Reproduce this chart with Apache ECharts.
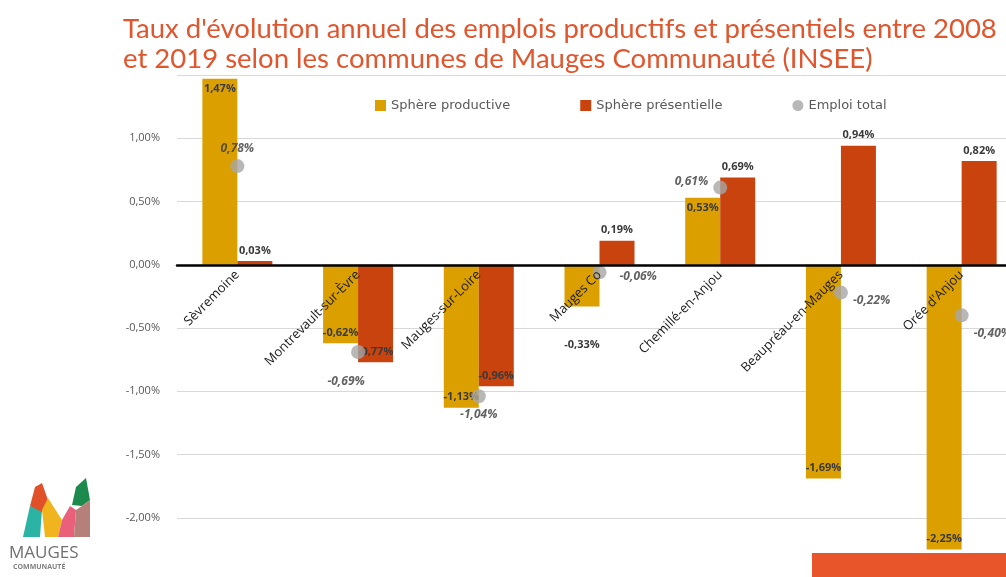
<!DOCTYPE html>
<html>
<head>
<meta charset="utf-8">
<script src="https://cdn.jsdelivr.net/npm/echarts@6/dist/echarts.min.js"></script>
<style>
  html, body { margin: 0; padding: 0; background: #fff; }
  #chart { width: 1006px; height: 577px; }
</style>
</head>
<body>
<div id="chart"></div>
<script>
// communes de Mauges Communauté
const communes = ['Sèvremoine', 'Montrevault-sur-Èvre', 'Mauges-sur-Loire', 'Mauges Co', 'Chemillé-en-Anjou', 'Beaupréau-en-Mauges', "Orée d'Anjou"]
// taux d'évolution annuel (%)
const productive = [1.47, -0.62, -1.13, -0.33, 0.53, -1.69, -2.25]
const presentielle = [0.03, -0.77, -0.96, 0.19, 0.69, 0.94, 0.82]
const emploiTotal = [0.78, -0.69, -1.04, -0.06, 0.61, -0.22, -0.40]
const yTicks = [-2, -1.5, -1, -0.5, 0, 0.5, 1]

const fmt = (v) => v.toFixed(2).replace('.', ',') + '%'

const chart = echarts.init(document.getElementById('chart'))

// géométrie de la grille : l'axe des catégories est remonté jusqu'à 0
const gridTop = 75
const gridBottom = -4
const yMin = -2.5
const yMax = 1.5
const plotH = 577 - gridTop - gridBottom
const zeroOffset = -plotH * (0 - yMin) / (yMax - yMin)

// placement des étiquettes de l'emploi total
const totalLabelPos = ['top', 'bottom', 'bottom', 'right', 'left', 'right', 'right']
const totalLabelOffset = [[0, 0], [-12, 12], [0, 0], [8, 4], [0, -6], [0, 8], [0, 18]]

const option = {
  animation: false,
  backgroundColor: '#fff',
  title: {
    text: "Taux d'évolution annuel des emplois productifs et présentiels entre 2008\net 2019 selon les communes de Mauges Communauté (INSEE)",
    left: 118,
    top: 9,
    textStyle: {
      color: '#E0562E',
      fontFamily: 'Lato',
      fontWeight: 'normal',
      fontSize: 27.5,
      lineHeight: 30
    }
  },
  legend: {
    top: 94,
    left: 370,
    itemWidth: 11,
    itemHeight: 11,
    itemGap: 70,
    textStyle: { color: '#595959', fontSize: 13, fontFamily: 'DejaVu Sans' },
    data: [
      { name: 'Sphère productive', icon: 'rect' },
      { name: 'Sphère présentielle', icon: 'rect' },
      { name: 'Emploi total', icon: 'circle' }
    ]
  },
  grid: { left: 177, right: -16, top: gridTop, bottom: gridBottom, outerBoundsMode: 'none', containLabel: false },
  xAxis: {
    type: 'category',
    data: communes,
    position: 'bottom',
    offset: zeroOffset,
    axisLine: { onZero: false, lineStyle: { color: '#000', width: 2.5 } },
    axisTick: { show: false },
    axisLabel: {
      rotate: 45,
      interval: 0,
      margin: 8,
      color: '#1a1a1a',
      fontSize: 13,
      fontFamily: 'Open Sans'
    },
    z: 10
  },
  yAxis: {
    type: 'value',
    min: yMin,
    max: yMax,
    interval: 0.5,
    axisLine: { show: false },
    axisTick: { show: false },
    splitLine: { lineStyle: { color: '#D9D9D9', width: 1 } },
    axisLabel: {
      margin: 17,
      color: '#595959',
      fontSize: 11,
      fontFamily: 'Open Sans',
      formatter: (v) => (yTicks.some(t => Math.abs(t - v) < 1e-9) ? fmt(v) : '')
    }
  },
  series: [
    {
      name: 'Sphère productive',
      type: 'bar',
      barWidth: 35,
      barGap: '0%',
      itemStyle: { color: '#DBA000' },
      data: productive.map((v, i) => ({
        value: v,
        label: {
          position: i === 3 ? 'bottom' : (v >= 0 ? 'insideTop' : 'insideBottom'),
          offset: i === 3 ? [0, 28] : [0, 0]
        }
      })),
      label: {
        show: true,
        color: '#3a3a3a',
        fontSize: 11,
        fontWeight: 'bold',
        fontFamily: 'Open Sans',
        formatter: (p) => fmt(p.value)
      }
    },
    {
      name: 'Sphère présentielle',
      type: 'bar',
      barWidth: 35,
      itemStyle: { color: '#C9430F' },
      data: presentielle.map((v) => ({
        value: v,
        label: { position: v >= 0 ? 'top' : 'insideBottom' }
      })),
      label: {
        show: true,
        color: '#3a3a3a',
        fontSize: 11,
        fontWeight: 'bold',
        fontFamily: 'Open Sans',
        formatter: (p) => fmt(p.value)
      }
    },
    {
      name: 'Emploi total',
      type: 'scatter',
      symbol: 'circle',
      symbolSize: 14,
      itemStyle: { color: '#A6A6A6' },
      z: 5,
      data: emploiTotal.map((v, i) => ({
        value: [communes[i], v],
        label: { position: totalLabelPos[i], offset: totalLabelOffset[i] }
      })),
      label: {
        show: true,
        color: '#3a3a3a',
        fontSize: 12,
        fontWeight: 'bold',
        fontStyle: 'italic',
        fontFamily: 'Open Sans',
        formatter: (p) => fmt(p.value[1])
      }
    }
  ],
  graphic: [
    // bandeau orange en bas à droite
    { type: 'rect', left: 812, top: 553, shape: { width: 194, height: 24 }, style: { fill: '#E9552A' }, z: 100 },
    // logo Mauges Communauté
    { type: 'polygon', shape: { points: [[23, 537], [30, 506], [42, 510], [40, 537]] }, style: { fill: '#2BB3A3' }, z: 100 },
    { type: 'polygon', shape: { points: [[30, 506], [35, 487], [42, 483], [48, 500], [42, 512]] }, style: { fill: '#E0512A' }, z: 100 },
    { type: 'polygon', shape: { points: [[42, 510], [48, 498], [62, 520], [58, 537], [45, 537]] }, style: { fill: '#F0B51E' }, z: 100 },
    { type: 'polygon', shape: { points: [[58, 537], [62, 520], [70, 506], [76, 510], [74, 537]] }, style: { fill: '#E9607A' }, z: 100 },
    { type: 'polygon', shape: { points: [[72, 505], [76, 487], [86, 478], [90, 500], [82, 506]] }, style: { fill: '#1C8A4C' }, z: 100 },
    { type: 'polygon', shape: { points: [[74, 537], [76, 510], [82, 506], [90, 500], [90, 537]] }, style: { fill: '#B5807A' }, z: 100 },
    { type: 'text', left: 9, top: 545, style: { text: 'MAUGES', fill: '#707070', font: '17px "Open Sans"' }, z: 100 },
    { type: 'text', left: 13, top: 563, style: { text: 'COMMUNAUTÉ', fill: '#808080', font: 'bold 7px "Open Sans"' }, z: 100 }
  ]
}

chart.setOption(option)
</script>
</body>
</html>
